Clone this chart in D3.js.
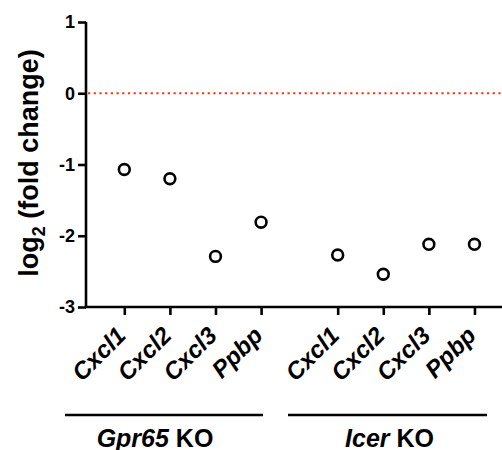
<!DOCTYPE html>
<html>
<head>
<meta charset="utf-8">
<script src="https://cdn.jsdelivr.net/npm/d3@7"></script>
<style>
  body { margin: 0; background: #fff; }
  text { font-family: Arial, "Liberation Sans", sans-serif; font-weight: bold; fill: #000; }
</style>
</head>
<body>
<div id="chart"></div>
<script>
// data
const genes = ['Cxcl1', 'Cxcl2', 'Cxcl3', 'Ppbp'];
const groups = ['Gpr65', 'Icer'];
const gpr65Values = [-1.07, -1.20, -2.29, -1.81];
const icerValues = [-2.27, -2.54, -2.12, -2.12];
const yTicks = [1, 0, -1, -2, -3];

const width = 502;
const height = 450;

// gene slot position: index within group plus gap between groups
const groupGap = 4.68;
const points = [];
[gpr65Values, icerValues].forEach((vals, g) => {
  vals.forEach((v, i) => points.push({ gene: genes[i], group: groups[g], pos: g * groupGap + i, value: v }));
});

const svg = d3.select('#chart')
  .append('svg')
  .attr('width', width)
  .attr('height', height);

const xScale = d3.scaleLinear()
  .domain([-0.84, 8.24])
  .range([86, 500]);

const yScale = d3.scaleLinear()
  .domain([-3, 1])
  .range([307, 22]);

// y axis
const yAxis = svg.append('g')
  .attr('transform', 'translate(86,0)')
  .call(d3.axisLeft(yScale).tickValues(yTicks).tickSize(8).tickPadding(3).tickFormat(d3.format('d')));
yAxis.select('.domain').attr('stroke', '#000').attr('stroke-width', 2.6).attr('d', `M0,${yScale(1)}V${yScale(-3)}`);
yAxis.selectAll('.tick line').attr('stroke', '#000').attr('stroke-width', 2.6);
yAxis.selectAll('.tick text')
  .style('font-size', '18px')
  .style('font-weight', 'bold')
  .style('font-family', 'Arial, "Liberation Sans", sans-serif')
  .text(d => d < 0 ? '-' + Math.abs(d) : d);

// x axis
const xAxis = svg.append('g')
  .attr('transform', `translate(0,${yScale(-3)})`)
  .call(d3.axisBottom(xScale).tickValues(points.map(d => d.pos)).tickSize(8).tickFormat(''));
xAxis.select('.domain').attr('stroke', '#000').attr('stroke-width', 2.6).attr('d', `M${86 - 1.3},0H502`);
xAxis.selectAll('.tick line').attr('stroke', '#000').attr('stroke-width', 2.6);

// rotated gene labels, each in its own rotated group
const labelY = yScale(-3) + 30;
svg.selectAll('.gene-label')
  .data(points)
  .enter()
  .append('g')
  .attr('class', 'gene-label')
  .attr('transform', d => `translate(${xScale(d.pos) + 3},${labelY}) rotate(-45)`)
  .append('text')
  .attr('text-anchor', 'end')
  .style('font-size', '24px')
  .style('font-style', 'italic')
  .text(d => d.gene);

// zero reference line
svg.append('line')
  .attr('x1', 88)
  .attr('x2', 502)
  .attr('y1', yScale(0))
  .attr('y2', yScale(0))
  .attr('stroke', '#ff3010')
  .attr('stroke-width', 2.2)
  .attr('stroke-dasharray', '2.2,3.5');

// points
svg.selectAll('.dot')
  .data(points)
  .enter()
  .append('circle')
  .attr('class', 'dot')
  .attr('cx', d => xScale(d.pos))
  .attr('cy', d => yScale(d.value))
  .attr('r', 5.4)
  .attr('fill', 'none')
  .attr('stroke', '#000')
  .attr('stroke-width', 2.6);

// group brackets
const groupSpans = [[65, 263], [288, 487]];
groups.forEach((g, i) => {
  const [a, b] = groupSpans[i];
  svg.append('line')
    .attr('x1', a).attr('x2', b)
    .attr('y1', 415).attr('y2', 415)
    .attr('stroke', '#000')
    .attr('stroke-width', 2.4);
  const t = svg.append('text')
    .attr('x', (a + b) / 2 - 9 + i * 11)
    .attr('y', 447)
    .attr('text-anchor', 'middle')
    .style('font-size', '25px');
  t.append('tspan').style('font-style', 'italic').text(g);
  t.append('tspan').text(' KO');
});

// y axis title
const yTitle = svg.append('text')
  .attr('transform', 'translate(38,163) rotate(-90)')
  .attr('text-anchor', 'middle')
  .style('font-size', '27px');
yTitle.append('tspan').text('log');
yTitle.append('tspan').attr('dy', 7).style('font-size', '18px').text('2');
yTitle.append('tspan').attr('dy', -7).text(' (fold change)');
</script>
</body>
</html>
